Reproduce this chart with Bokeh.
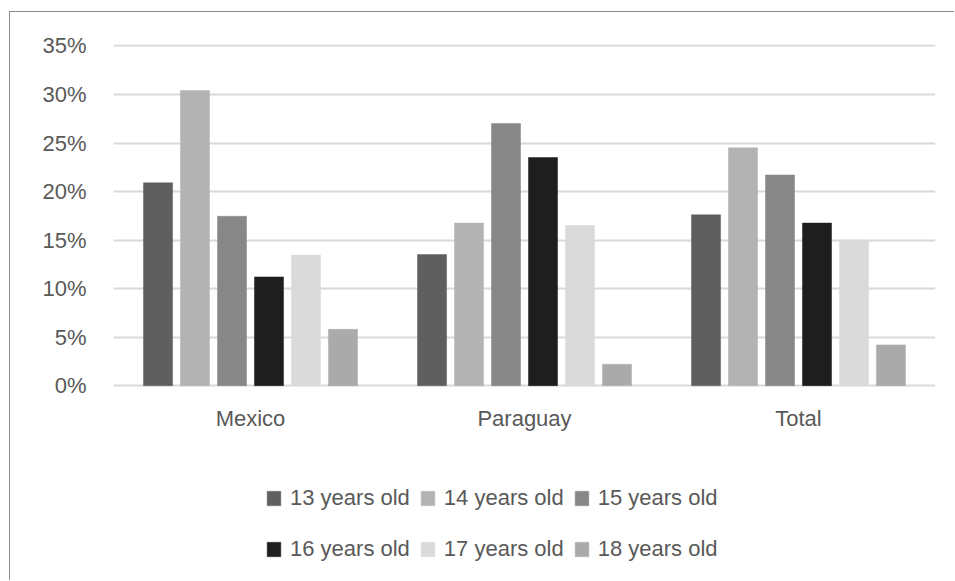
from bokeh.plotting import figure
from bokeh.models import ColumnDataSource, FactorRange, Range1d, Legend, LegendItem, PrintfTickFormatter, FixedTicker
from bokeh.transform import dodge
from bokeh.core.properties import value
from bokeh.embed import file_html
from bokeh.resources import INLINE

categories = ["Mexico", "Paraguay", "Total"]
series_names = ["13 years old", "14 years old", "15 years old",
                "16 years old", "17 years old", "18 years old"]
age13 = [20.9, 13.5, 17.6]
age14 = [30.4, 16.75, 24.5]
age15 = [17.45, 27.0, 21.7]
age16 = [11.2, 23.5, 16.75]
age17 = [13.45, 16.5, 15.0]
age18 = [5.8, 2.2, 4.2]
y_ticks = [0, 5, 10, 15, 20, 25, 30, 35]
colors = ["#5f5f5f", "#b3b3b3", "#878787", "#1e1e1e", "#dadada", "#aaaaaa"]

FONT = "Liberation Sans"
TEXT = "#595959"
FS = "22px"

data = {"cat": categories, "label_y": [-3.36] * len(categories)}
keys = ["a13", "a14", "a15", "a16", "a17", "a18"]
for k, v in zip(keys, [age13, age14, age15, age16, age17, age18]):
    data[k] = v
src = ColumnDataSource(data)

p = figure(x_range=FactorRange(*categories), y_range=Range1d(-20.18, 35.15),
           width=945, height=569, output_backend="svg", toolbar_location=None,
           min_border_left=103, min_border_right=20, min_border_top=32,
           min_border_bottom=0)
p.outline_line_color = None
p.styles = {"margin-left": "9px", "margin-top": "11px",
            "border-left": "1px solid #8a8a8a", "border-top": "1px solid #8a8a8a"}

renderers = []
step = 0.135
for i, k in enumerate(keys):
    r = p.vbar(x=dodge("cat", (i - 2.5) * step, range=p.x_range), top=k, width=0.106,
               source=src, fill_color=colors[i], line_color=colors[i], line_width=0.5)
    renderers.append(r)

# category labels under the groups
p.text(x="cat", y="label_y", text="cat", source=src, text_font=value(FONT),
       text_font_size=FS, text_color=TEXT, text_align="center", text_baseline="middle")

p.yaxis.ticker = FixedTicker(ticks=y_ticks)
p.yaxis.formatter = PrintfTickFormatter(format="%d%%")
p.yaxis.major_label_standoff = 21
p.yaxis.axis_line_color = None
p.yaxis.major_tick_line_color = None
p.yaxis.minor_tick_line_color = None
p.yaxis.major_label_text_font = FONT
p.yaxis.major_label_text_font_size = FS
p.yaxis.major_label_text_color = TEXT

p.xaxis.visible = False

p.xgrid.grid_line_color = None
p.ygrid.ticker = FixedTicker(ticks=y_ticks)
p.ygrid.grid_line_color = "#d9d9d9"
p.ygrid.grid_line_width = 2

def make_legend(idx, loc):
    lg = Legend(items=[LegendItem(label=series_names[j], renderers=[renderers[j]]) for j in idx],
                orientation="horizontal", location=loc, padding=0, margin=0,
                spacing=9, label_standoff=8, glyph_width=17, glyph_height=18,
                label_height=26, label_text_font=FONT, label_text_font_size=FS,
                label_text_color=TEXT, border_line_color=None, background_fill_alpha=0)
    p.add_layout(lg, "center")

make_legend([0, 1, 2], (152, 70))
make_legend([3, 4, 5], (152, 19))

open("out.html", "w").write(file_html(p, INLINE))
